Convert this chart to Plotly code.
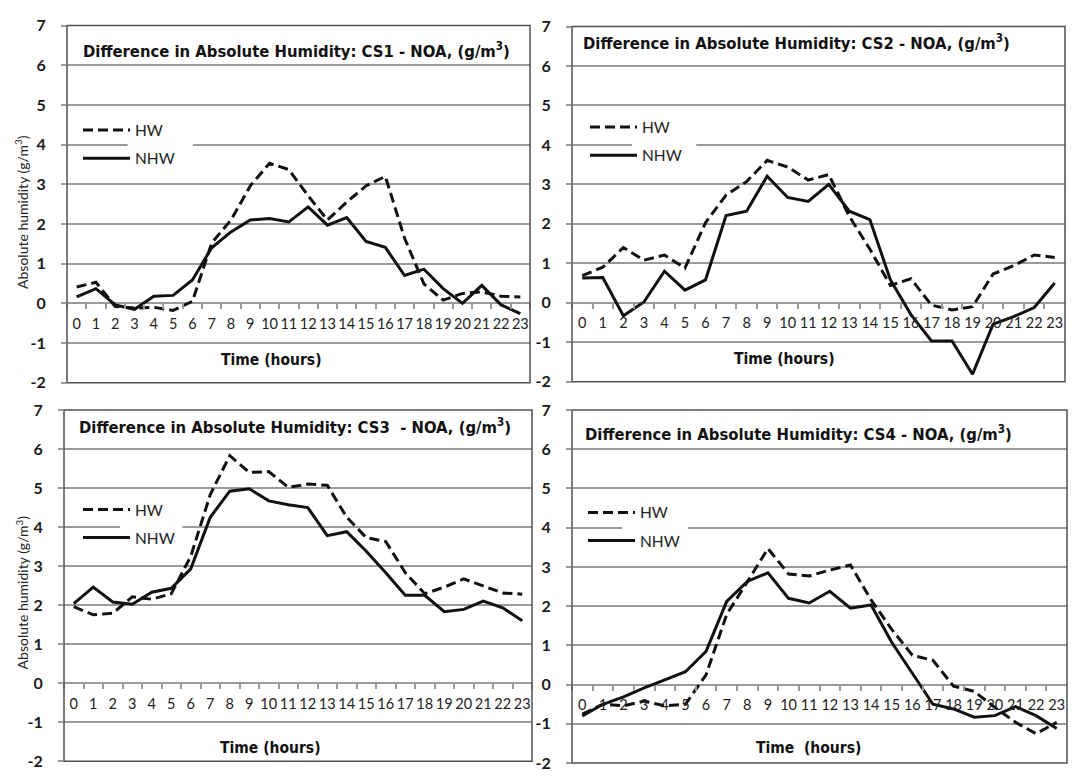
import plotly.graph_objects as go

# Hourly differences in absolute humidity (g/m3), station minus NOA
hours = [str(h) for h in range(24)]

cs1_hw = [0.41, 0.53, -0.08, -0.12, -0.10, -0.18, 0.05, 1.52, 2.10, 2.96, 3.53, 3.37,
          2.71, 2.10, 2.55, 2.96, 3.20, 1.64, 0.49, 0.08, 0.25, 0.29, 0.18, 0.16]
cs1_nhw = [0.16, 0.37, -0.04, -0.15, 0.18, 0.20, 0.59, 1.40, 1.80, 2.10, 2.14, 2.05,
           2.43, 1.97, 2.16, 1.56, 1.41, 0.70, 0.86, 0.37, 0.00, 0.45, -0.04, -0.26]

cs2_hw = [0.69, 0.90, 1.40, 1.08, 1.21, 0.88, 2.03, 2.73, 3.07, 3.61, 3.44, 3.11,
          3.25, 2.19, 1.36, 0.44, 0.61, -0.06, -0.18, -0.10, 0.73, 0.94, 1.21, 1.15]
cs2_nhw = [0.63, 0.64, -0.33, 0.02, 0.80, 0.32, 0.58, 2.21, 2.32, 3.21, 2.67, 2.57,
           3.00, 2.32, 2.11, 0.58, -0.30, -0.97, -0.97, -1.81, -0.54, -0.35, -0.12, 0.50]

cs3_hw = [1.96, 1.75, 1.79, 2.21, 2.15, 2.29, 3.25, 4.83, 5.83, 5.40, 5.42, 5.02,
          5.10, 5.07, 4.25, 3.73, 3.63, 2.83, 2.29, 2.46, 2.67, 2.48, 2.31, 2.28]
cs3_nhw = [2.04, 2.46, 2.08, 2.02, 2.33, 2.43, 2.93, 4.25, 4.92, 4.98, 4.67, 4.57,
           4.50, 3.78, 3.88, 3.38, 2.83, 2.25, 2.25, 1.83, 1.89, 2.10, 1.93, 1.60]

cs4_hw = [-0.75, -0.50, -0.54, -0.42, -0.54, -0.50, 0.25, 1.79, 2.62, 3.47, 2.82, 2.77,
          2.92, 3.05, 2.16, 1.41, 0.75, 0.62, -0.04, -0.17, -0.58, -0.96, -1.25, -0.96]
cs4_nhw = [-0.80, -0.50, -0.31, -0.08, 0.12, 0.33, 0.85, 2.12, 2.63, 2.85, 2.20, 2.08,
           2.38, 1.95, 2.03, 1.08, 0.29, -0.50, -0.62, -0.83, -0.79, -0.56, -0.79, -1.12]

series_names = ["HW", "NHW"]
station_labels = ["CS1 - NOA", "CS2 - NOA", "CS3\u00a0 - NOA", "CS4 - NOA"]
x_titles = ["Time (hours)", "Time (hours)", "Time (hours)", "Time\u00a0 (hours)"]
y_title = "Absolute humidity (g/m<sup>3</sup>)"
y_ticks = [-2, -1, 0, 1, 2, 3, 4, 5, 6, 7]
y_ticktext = ["-2", "-1", "0", "1", "2", "3", "4", "5", "6", "7"]
y_range = [-2, 7]

W, H = 1077, 777


def fx(px):
    return px / W


def fy(py):
    return 1 - py / H


# panel frames in pixels: left, right, top, bottom
frames = [
    (67, 530, 16, 382),
    (572, 1065, 17, 381),
    (64, 532, 410, 770),
    (572, 1067, 410, 772),
]
title_pos = [(296, 41), (796, 33), (295, 426), (798, 434)]
xtitle_pos = [(271, 359), (784, 358), (270, 757), (809, 756)]
ytitle_pos = [(22, 207), None, (22, 597), None]
legend_pos = [(78, 106), (585, 103), (78, 495), (583, 498)]
legend_gap = [(0.131, 0.272), (0.122, 0.252), (0.120, 0.253), (0.101, 0.234)]

data = [(cs1_hw, cs1_nhw), (cs2_hw, cs2_nhw), (cs3_hw, cs3_nhw), (cs4_hw, cs4_nhw)]

INK = "#111111"
GRID = "#9a9a9a"
FRAME = "#505050"
BODY_FONT = "Lato, Carlito, Open Sans, sans-serif"
NARROW_FONT = "DejaVu Sans Condensed, Liberation Sans Narrow, sans-serif"

fig = go.Figure()
layout = dict(
    width=W, height=H,
    margin=dict(l=0, r=0, t=0, b=0),
    paper_bgcolor="white", plot_bgcolor="white",
    showlegend=True,
    annotations=[], shapes=[],
)

for i, ((hw, nhw), (l, r, t, b)) in enumerate(zip(data, frames), start=1):
    xa = "x" if i == 1 else f"x{i}"
    ya = "y" if i == 1 else f"y{i}"
    leg = "legend" if i == 1 else f"legend{i}"
    ydom = [fy(b), fy(t)]
    zero_pos = ydom[0] + (ydom[1] - ydom[0]) * (0 - y_range[0]) / (y_range[1] - y_range[0])

    for name, vals, dash in ((series_names[0], hw, "10px,5px"), (series_names[1], nhw, "solid")):
        fig.add_trace(go.Scatter(
            x=hours, y=vals, mode="lines", name=name,
            line=dict(color=INK, width=3, dash=dash),
            xaxis=xa, yaxis=ya, legend=leg, legendgroup=f"{name}{i}",
            hoverinfo="x+y",
        ))

    layout[f"xaxis{'' if i == 1 else i}"] = dict(
        domain=[fx(l), fx(r)], type="category", range=[-0.5, 23.5],
        anchor="free", position=zero_pos,
        tickson="boundaries", ticks="outside", ticklen=5, tickwidth=1.5, tickcolor=GRID,
        ticklabelstandoff=10, tickangle=0,
        showgrid=False, showline=False, zeroline=False,
        tickfont=dict(family=BODY_FONT, size=14.5, color="#222222"),
    )
    layout[f"yaxis{'' if i == 1 else i}"] = dict(
        domain=ydom, anchor=xa, range=y_range,
        tickmode="array", tickvals=y_ticks, ticktext=y_ticktext,
        showgrid=True, gridcolor=GRID, gridwidth=1.5,
        ticks="outside", ticklen=5, tickwidth=1.5, tickcolor=GRID,
        ticklabelstandoff=12,
        showline=False, zeroline=False,
        tickfont=dict(family=BODY_FONT, size=16, color="#1a1a1a", weight="bold"),
    )
    lx, ly = legend_pos[i - 1]
    layout[leg] = dict(
        x=fx(lx), y=fy(ly), xref="paper", yref="paper",
        xanchor="left", yanchor="top",
        bgcolor="rgba(0,0,0,0)", borderwidth=0,
        font=dict(family=BODY_FONT, size=15.5, color="#222222"),
        itemwidth=47, tracegroupgap=5,
    )

    # plot frame
    layout["shapes"].append(dict(
        type="rect", xref=f"{xa} domain", yref=f"{ya} domain",
        x0=0, x1=1, y0=0, y1=1, line=dict(color=FRAME, width=1.5), layer="above",
    ))
    # legend text box masks the grid line behind it
    g0, g1 = legend_gap[i - 1]
    layout["shapes"].append(dict(
        type="rect", xref=xa, yref=ya,
        x0=-0.5 + 24 * g0, x1=-0.5 + 24 * g1, y0=3.9, y1=4.1,
        fillcolor="white", line=dict(width=0), layer="between",
    ))

    tx, ty = title_pos[i - 1]
    layout["annotations"].append(dict(
        x=fx(tx), y=fy(ty), xref="paper", yref="paper", showarrow=False,
        xanchor="center", yanchor="middle",
        text=f"Difference in Absolute Humidity: {station_labels[i - 1]}, (g/m<sup>3</sup>)",
        font=dict(family=NARROW_FONT, size=16.5, color=INK, weight="bold"),
    ))
    xx, xy = xtitle_pos[i - 1]
    layout["annotations"].append(dict(
        x=fx(xx), y=fy(xy), xref="paper", yref="paper", showarrow=False,
        xanchor="center", yanchor="middle", text=x_titles[i - 1],
        font=dict(family=NARROW_FONT, size=15.5, color=INK, weight="bold"),
    ))
    if ytitle_pos[i - 1] is not None:
        yx, yy = ytitle_pos[i - 1]
        layout["annotations"].append(dict(
            x=fx(yx), y=fy(yy), xref="paper", yref="paper", showarrow=False,
            xanchor="center", yanchor="middle", textangle=-90, text=y_title,
            font=dict(family=BODY_FONT, size=14, color="#222222"),
        ))

fig.update_layout(**layout)
fig.write_html("out.html")
